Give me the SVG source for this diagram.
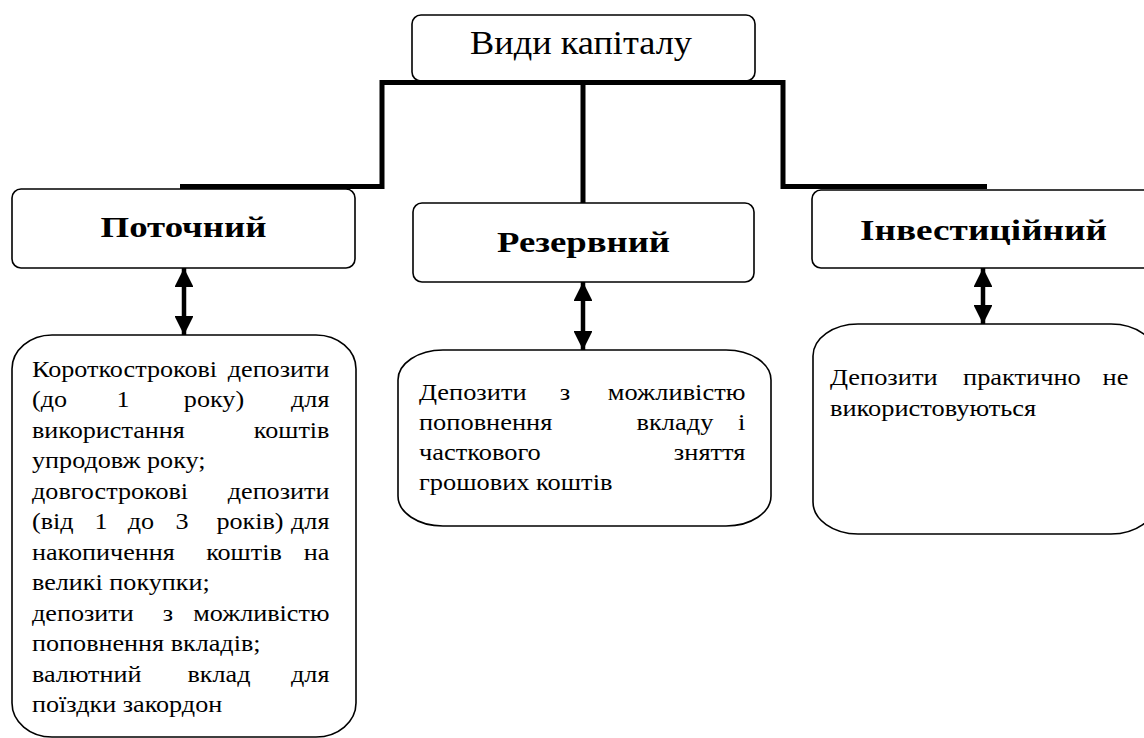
<svg xmlns="http://www.w3.org/2000/svg" width="1144" height="738" viewBox="0 0 1144 738">
<style>
.box{fill:#fff;stroke:#000;stroke-width:1.6}
.conn{fill:none;stroke:#000;stroke-width:5;stroke-linejoin:miter}
text{font-family:"Liberation Serif","Times New Roman",serif;fill:#000}
.t{font-size:24px}
.h{font-size:30px;font-weight:bold;text-anchor:middle}
.top{font-size:34px;text-anchor:middle}
.e{text-anchor:end}
.m{text-anchor:middle}
</style>
<defs>
<marker id="ah" viewBox="0 0 10 10" refX="10" refY="5" markerWidth="4.2" markerHeight="4.2" orient="auto-start-reverse" markerUnits="strokeWidth">
<path d="M0,0 L10,5 L0,10 z" fill="#000"/>
</marker>
</defs>

<g id="root">
<rect class="box" x="412" y="15" width="343" height="66" rx="9"/>
<text class="top" x="581" y="54" textLength="222" lengthAdjust="spacingAndGlyphs">Види капіталу</text>
</g>

<g id="poto">
<rect class="box" x="12" y="189" width="343" height="79" rx="9"/>
<text class="h" x="183.5" y="237" textLength="166" lengthAdjust="spacingAndGlyphs">Поточний</text>
</g>

<g id="rez">
<rect class="box" x="413" y="203" width="341" height="79" rx="9"/>
<text class="h" x="583.5" y="252" textLength="173" lengthAdjust="spacingAndGlyphs">Резервний</text>
</g>

<g id="inv">
<rect class="box" x="812" y="190" width="343" height="78" rx="9"/>
<text class="h" x="983.5" y="240" textLength="247" lengthAdjust="spacingAndGlyphs">Інвестиційний</text>
</g>

<g id="poto-desc">
<rect class="box" x="12" y="335" width="344" height="402" rx="40" ry="34"/>
<text class="t" transform="scale(1.09 1)">
<tspan x="29.36" y="377">Короткострокові</tspan><tspan class="e" x="308.26" y="377">депозити</tspan>
<tspan x="29.36" y="407.5">(до</tspan><tspan class="m" x="112.84" y="407.5">1</tspan><tspan class="m" x="196.33" y="407.5">року)</tspan><tspan class="e" x="308.26" y="407.5">для</tspan>
<tspan x="29.36" y="438">використання</tspan><tspan class="e" x="308.26" y="438">коштів</tspan>
<tspan x="29.36" y="468.5">упродовж року;</tspan>
<tspan x="29.36" y="499">довгострокові</tspan><tspan class="e" x="308.26" y="499">депозити</tspan>
<tspan x="29.36" y="529.5">(від</tspan><tspan class="m" x="92.66" y="529.5">1</tspan><tspan class="m" x="129.36" y="529.5">до</tspan><tspan class="m" x="166.97" y="529.5">3</tspan><tspan class="m" x="229.36" y="529.5">років)</tspan><tspan class="e" x="308.26" y="529.5">для</tspan>
<tspan x="29.36" y="560">накопичення</tspan><tspan class="m" x="223.85" y="560">коштів</tspan><tspan class="e" x="308.26" y="560">на</tspan>
<tspan x="29.36" y="590.5">великі покупки;</tspan>
<tspan x="29.36" y="621">депозити</tspan><tspan class="m" x="154.13" y="621">з</tspan><tspan class="e" x="308.26" y="621">можливістю</tspan>
<tspan x="29.36" y="651.5">поповнення вкладів;</tspan>
<tspan x="29.36" y="682">валютний</tspan><tspan class="m" x="200.92" y="682">вклад</tspan><tspan class="e" x="308.26" y="682">для</tspan>
<tspan x="29.36" y="712.5">поїздки закордон</tspan>
</text>
</g>

<g id="rez-desc">
<rect class="box" x="398" y="350" width="373" height="176" rx="45" ry="30"/>
<text class="t" transform="scale(1.1 1)">
<tspan x="380.91" y="400">Депозити</tspan><tspan class="m" x="513.64" y="400">з</tspan><tspan class="e" x="683.64" y="400">можливістю</tspan>
<tspan x="380.91" y="430">поповнення</tspan><tspan class="m" x="613.64" y="430">вкладу</tspan><tspan class="e" x="683.64" y="430">і</tspan>
<tspan x="380.91" y="460">часткового</tspan><tspan class="e" x="683.64" y="460">зняття</tspan>
<tspan x="380.91" y="490">грошових коштів</tspan>
</text>
</g>

<g id="inv-desc">
<rect class="box" x="813" y="324" width="343" height="210" rx="45" ry="32"/>
<text class="t" transform="scale(1.1 1)">
<tspan x="754.55" y="385">Депозити</tspan><tspan class="m" x="929" y="385">практично</tspan><tspan class="e" x="1031.82" y="385">не</tspan>
<tspan x="754.55" y="416">використовуються</tspan>
</text>
</g>

<g id="connectors">
<path class="conn" d="M180,186.5 H382 V82.5 H783 V186.5 H987"/>
<path class="conn" d="M583,82.5 V203"/>
<line x1="184" y1="268" x2="184" y2="335" stroke="#000" stroke-width="4.5" marker-start="url(#ah)" marker-end="url(#ah)"/>
<line x1="583" y1="282" x2="583" y2="350" stroke="#000" stroke-width="4.5" marker-start="url(#ah)" marker-end="url(#ah)"/>
<line x1="983" y1="268" x2="983" y2="324" stroke="#000" stroke-width="4.5" marker-start="url(#ah)" marker-end="url(#ah)"/>
</g>
</svg>
